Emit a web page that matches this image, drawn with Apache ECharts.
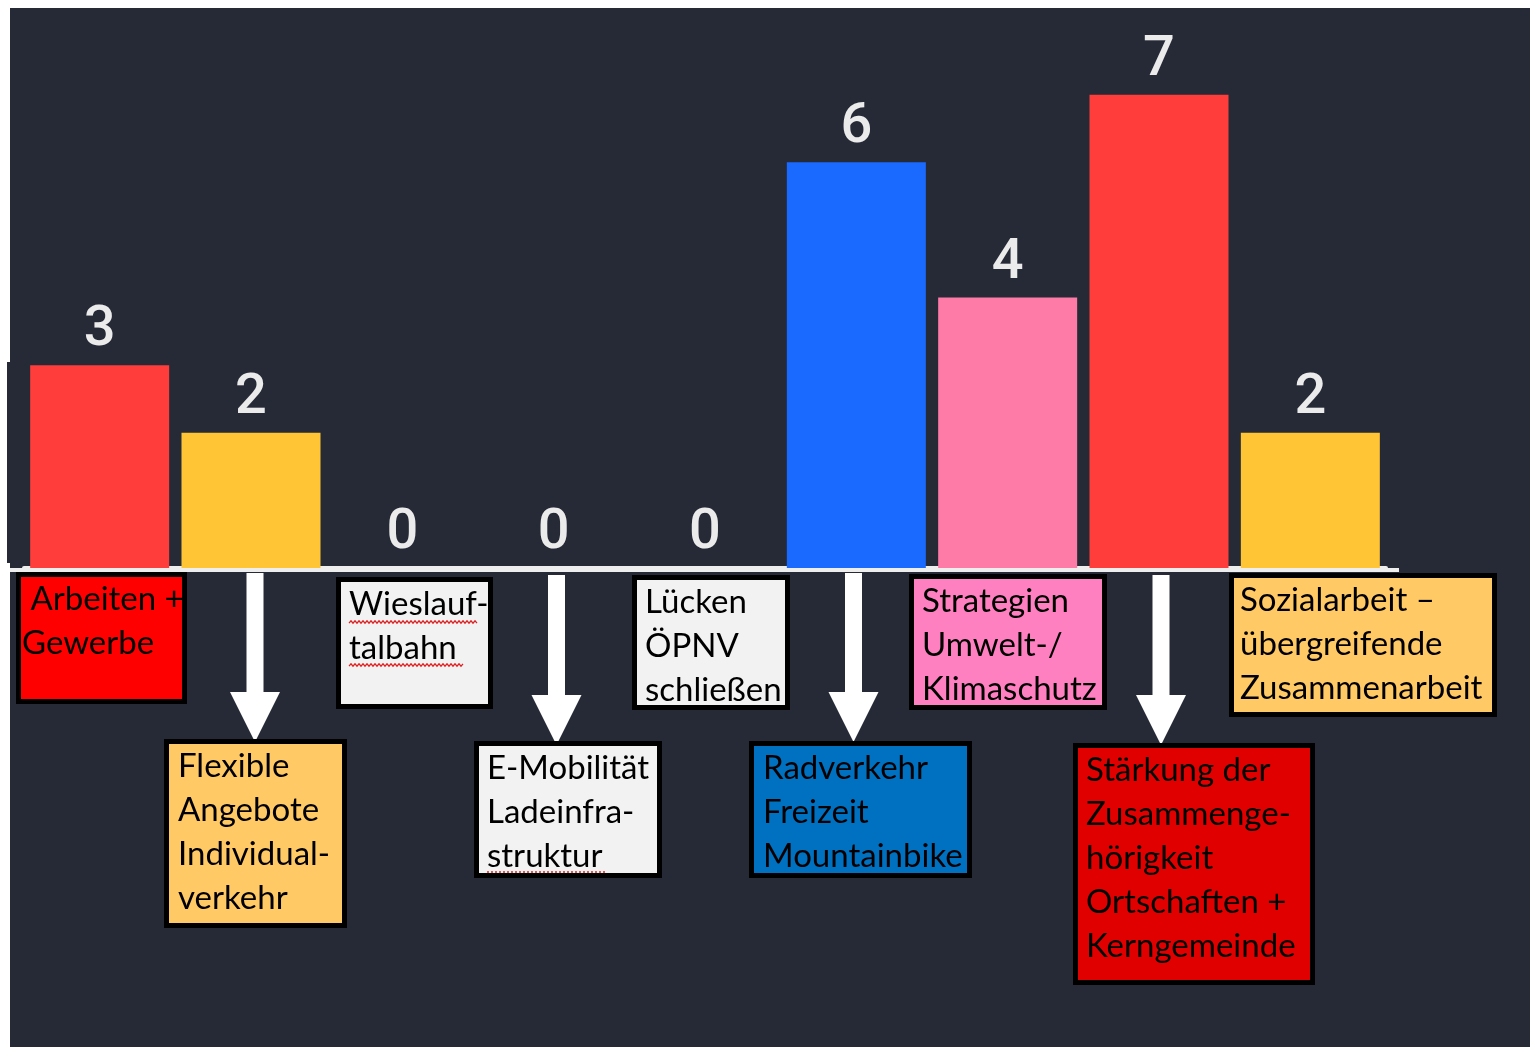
<!DOCTYPE html>
<html>
<head>
<meta charset="utf-8">
<script src="https://cdn.jsdelivr.net/npm/echarts@6/dist/echarts.min.js"></script>
<style>
html,body{margin:0;padding:0;background:#ffffff;}
#chart{width:1530px;height:1047px;}
</style>
</head>
<body>
<div id="chart"></div>
<script>
// ---- data ----
var categories = [
  " Arbeiten +\nGewerbe",
  "Flexible\nAngebote\nIndividual-\nverkehr",
  "Wieslauf-\ntalbahn",
  "E-Mobilität\nLadeinfra-\nstruktur",
  "Lücken\nÖPNV\nschließen",
  "Radverkehr\nFreizeit\nMountainbike",
  "Strategien\nUmwelt-/\nKlimaschutz",
  "Stärkung der\nZusammenge-\nhörigkeit\nOrtschaften +\nKerngemeinde",
  "Sozialarbeit –\nübergreifende\nZusammenarbeit"
];
var values = [3, 2, 0, 0, 0, 6, 4, 7, 2];
var barColors = ["#ff3d3b", "#ffc535", "#ff3d3b", "#ff3d3b", "#ff3d3b", "#1a6aff", "#ff7ba7", "#ff3d3b", "#ffc535"];
var boxColors = ["#ff0000", "#ffc966", "#f2f2f2", "#f2f2f2", "#f2f2f2", "#0070c0", "#ff80c0", "#e00000", "#ffc966"];

// ---- annotation layout (label boxes below the axis), outer edges in px ----
var boxLayout = [
  {x0: 16,   x1: 187,  y0: 572, y1: 704, pad: 6,  arrow: null},
  {x0: 164,  x1: 347,  y0: 739, y1: 928, pad: 14, arrow: {x: 255,   y0: 573, y1: 742}},
  {x0: 336,  x1: 493,  y0: 577, y1: 709, pad: 13, arrow: null},
  {x0: 474,  x1: 662,  y0: 741, y1: 878, pad: 13, arrow: {x: 556.5, y0: 575, y1: 745}},
  {x0: 632,  x1: 790,  y0: 575, y1: 710, pad: 13, arrow: null},
  {x0: 749,  x1: 972,  y0: 741, y1: 878, pad: 14, arrow: {x: 853.5, y0: 573, y1: 742}},
  {x0: 909,  x1: 1107, y0: 574, y1: 710, pad: 13, arrow: null},
  {x0: 1073, x1: 1315, y0: 743, y1: 985, pad: 13, arrow: {x: 1161,  y0: 575, y1: 745}},
  {x0: 1229, x1: 1497, y0: 573, y1: 717, pad: 11, arrow: null}
];

var graphics = [];
graphics.push({type: 'rect', z: -10, silent: true, shape: {x: 10, y: 8, width: 1520, height: 1039}, style: {fill: '#252a36'}});
graphics.push({type: 'rect', z: -10, silent: true, shape: {x: 7, y: 362, width: 4, height: 201}, style: {fill: '#252a36'}});
graphics.push({type: 'line', z: 5, silent: true, shape: {x1: 10, y1: 570, x2: 1399, y2: 570}, style: {stroke: '#eeeeee', lineWidth: 4}});

boxLayout.forEach(function (b, i) {
  var bw = 5;
  graphics.push({
    type: 'rect', z: 10, silent: true,
    shape: {x: b.x0 + bw / 2, y: b.y0 + bw / 2, width: b.x1 - b.x0 - bw, height: b.y1 - b.y0 - bw},
    style: {fill: boxColors[i], stroke: '#000000', lineWidth: bw}
  });
  graphics.push({
    type: 'text', z: 11, silent: true,
    x: b.x0 + b.pad, y: b.y0 + 5,
    style: {
      text: categories[i], fill: '#000000',
      font: '33px Lato', lineHeight: 44,
      textAlign: 'left', textVerticalAlign: 'top'
    }
  });
  if (b.arrow) {
    var a = b.arrow, sw = 8.5, hw = 25, hh = 50;
    graphics.push({
      type: 'polygon', z: 9, silent: true,
      shape: {points: [
        [a.x - sw, a.y0], [a.x + sw, a.y0], [a.x + sw, a.y1 - hh], [a.x + hw, a.y1 - hh],
        [a.x, a.y1], [a.x - hw, a.y1 - hh], [a.x - sw, a.y1 - hh]
      ]},
      style: {fill: '#ffffff'}
    });
  }
});

// spell-check squiggles (decorative, as in the screenshot)
function squiggle(x0, x1, y) {
  var pts = [];
  for (var x = x0, k = 0; x <= x1; x += 2, k++) pts.push([x, y + (k % 2 ? -1.2 : 1.2)]);
  return {type: 'polyline', z: 12, silent: true, shape: {points: pts}, style: {stroke: '#e02020', lineWidth: 1.2, fill: null}};
}
graphics.push(squiggle(349, 478, 622));
graphics.push(squiggle(349, 463, 665));
graphics.push({type: 'line', z: 12, silent: true, shape: {x1: 487, y1: 872, x2: 606, y2: 872}, style: {stroke: '#e02020', lineWidth: 1.3, lineDash: [2, 2]}});

var chart = echarts.init(document.getElementById('chart'));
chart.setOption({
  backgroundColor: 'transparent',
  animation: false,
  grid: {left: 24, right: 144, top: 27, bottom: 479, containLabel: false},
  xAxis: {
    type: 'category',
    data: categories,
    axisLine: {show: true, lineStyle: {color: '#eeeeee', width: 4}},
    axisTick: {show: false},
    axisLabel: {show: false}
  },
  yAxis: {
    type: 'value', min: 0, max: 8, interval: 1,
    show: false,
    splitLine: {show: false}
  },
  series: [{
    type: 'bar',
    barWidth: 139,
    data: values.map(function (v, i) { return {value: v, itemStyle: {color: barColors[i]}}; }),
    label: {
      show: true, position: 'top', distance: 6,
      color: '#ebebeb', fontFamily: 'Roboto', fontSize: 56, fontWeight: 500
    }
  }],
  graphic: graphics
});
</script>
</body>
</html>
